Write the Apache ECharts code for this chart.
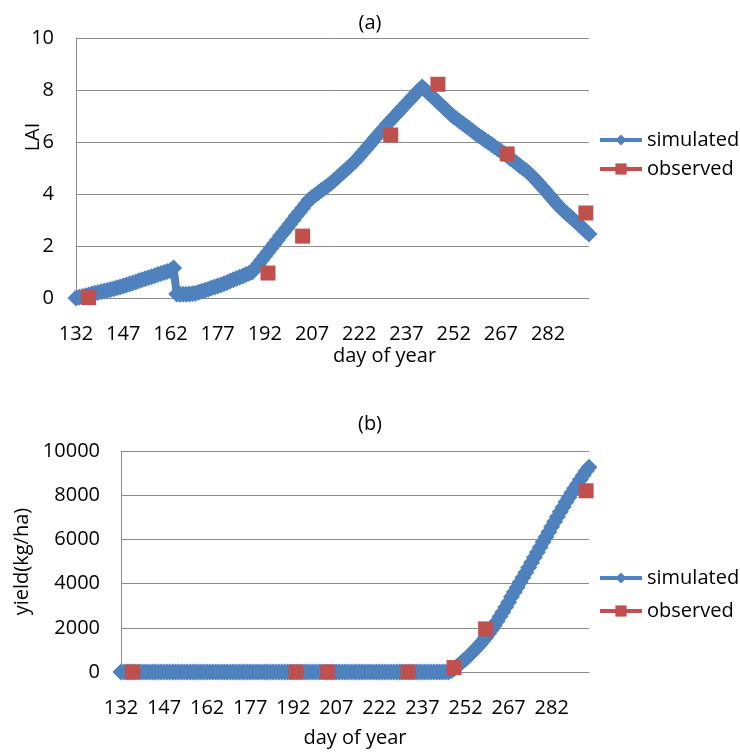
<!DOCTYPE html>
<html>
<head>
<meta charset="utf-8">
<script src="https://cdn.jsdelivr.net/npm/echarts@6/dist/echarts.min.js"></script>
<style>html,body{margin:0;padding:0;background:#fff}#c{width:740px;height:753px}</style>
</head>
<body>
<div id="c"></div>
<script>
// day of year categories
const days = [
'132','133','134','135','136','137','138','139','140','141',
'142','143','144','145','146','147','148','149','150','151',
'152','153','154','155','156','157','158','159','160','161',
'162','163','164','165','166','167','168','169','170','171',
'172','173','174','175','176','177','178','179','180','181',
'182','183','184','185','186','187','188','189','190','191',
'192','193','194','195','196','197','198','199','200','201',
'202','203','204','205','206','207','208','209','210','211',
'212','213','214','215','216','217','218','219','220','221',
'222','223','224','225','226','227','228','229','230','231',
'232','233','234','235','236','237','238','239','240','241',
'242','243','244','245','246','247','248','249','250','251',
'252','253','254','255','256','257','258','259','260','261',
'262','263','264','265','266','267','268','269','270','271',
'272','273','274','275','276','277','278','279','280','281',
'282','283','284','285','286','287','288','289','290','291',
'292','293','294','295'];

// (a) simulated LAI, one value per day
const laiSim = [
0.00,0.03,0.06,0.09,0.12,0.15,0.18,0.21,0.24,0.27,
0.30,0.33,0.36,0.39,0.42,0.46,0.50,0.54,0.58,0.62,
0.66,0.70,0.74,0.78,0.82,0.86,0.90,0.94,0.98,1.02,
1.06,1.15,0.15,0.14,0.14,0.14,0.15,0.16,0.18,0.22,
0.26,0.30,0.34,0.38,0.42,0.46,0.50,0.55,0.60,0.65,
0.70,0.75,0.80,0.85,0.90,0.95,1.00,1.15,1.31,1.46,
1.62,1.77,1.92,2.08,2.23,2.39,2.54,2.69,2.85,3.00,
3.16,3.31,3.46,3.62,3.77,3.87,3.96,4.05,4.14,4.23,
4.32,4.41,4.52,4.63,4.74,4.85,4.96,5.07,5.18,5.30,
5.44,5.58,5.72,5.86,6.00,6.14,6.28,6.42,6.56,6.70,
6.83,6.96,7.09,7.22,7.35,7.48,7.61,7.74,7.87,8.00,
8.12,8.00,7.88,7.77,7.65,7.54,7.42,7.31,7.19,7.08,
6.97,6.88,6.79,6.70,6.61,6.52,6.42,6.33,6.24,6.16,
6.07,5.99,5.90,5.82,5.73,5.65,5.56,5.47,5.37,5.28,
5.18,5.09,4.99,4.90,4.80,4.68,4.55,4.42,4.28,4.15,
4.01,3.87,3.73,3.59,3.46,3.35,3.24,3.13,3.02,2.91,
2.80,2.69,2.57,2.46];

// (a) observed LAI
const laiObsDays = ['136','193','204','232','247','269','294'];
const laiObs = [0.02,0.96,2.38,6.27,8.22,5.54,3.27];

// (b) simulated yield (kg/ha), one value per day
const yieldSim = [
0,0,0,0,0,0,0,0,0,0,
0,0,0,0,0,0,0,0,0,0,
0,0,0,0,0,0,0,0,0,0,
0,0,0,0,0,0,0,0,0,0,
0,0,0,0,0,0,0,0,0,0,
0,0,0,0,0,0,0,0,0,0,
0,0,0,0,0,0,0,0,0,0,
0,0,0,0,0,0,0,0,0,0,
0,0,0,0,0,0,0,0,0,0,
0,0,0,0,0,0,0,0,0,0,
0,0,0,0,0,0,0,0,0,0,
0,0,0,0,0,60,150,250,360,470,
590,710,840,970,1110,1250,1400,1560,1730,1910,
2100,2300,2510,2720,2940,3160,3400,3620,3840,4060,
4280,4500,4730,4960,5190,5420,5650,5880,6110,6340,
6570,6800,7030,7250,7470,7690,7900,8110,8310,8510,
8710,8900,9090,9270];

// (b) observed yield
const yieldObsDays = ['136','193','204','232','248','259','294'];
const yieldObs = [0,0,0,0,200,1950,8200];

const laiTicks = {min:0, max:10, interval:2};
const yieldTicks = {min:0, max:10000, interval:2000};

const FONT = "'Open Sans', 'Noto Sans', sans-serif";
const BLUE = '#4F81BD', RED = '#C0504D', GRID = '#8c8c8c', TXT = '#000';

const pairs = (d, v) => d.map((x, i) => [x, v[i]]);

function xAx(gi, nameOpt) {
  return Object.assign({
    type:'category', gridIndex:gi, data:days, boundaryGap:false,
    axisLine:{show:true, lineStyle:{color:GRID, width:1}},
    axisTick:{show:false},
    axisLabel:{interval:14, margin:26, fontSize:20, color:TXT, fontFamily:FONT},
    splitLine:{show:false}
  }, nameOpt || {});
}
function yAx(gi, t, margin, nameOpt) {
  return Object.assign({
    type:'value', gridIndex:gi, min:t.min, max:t.max, interval:t.interval,
    axisLine:{show:true, lineStyle:{color:GRID, width:1}},
    axisTick:{show:false},
    axisLabel:{margin:margin, fontSize:20, color:TXT, fontFamily:FONT, formatter:v => String(v)},
    splitLine:{show:true, lineStyle:{color:GRID, width:1}}
  }, nameOpt || {});
}
function simSeries(idx, data) {
  return {name:'simulated', type:'line', xAxisIndex:idx, yAxisIndex:idx, data:data,
    symbol:'diamond', symbolSize:17, showAllSymbol:true,
    lineStyle:{color:BLUE, width:8}, itemStyle:{color:BLUE, borderWidth:0},
    animation:false, z:2};
}
function obsSeries(idx, data) {
  return {name:'observed', type:'line', xAxisIndex:idx, yAxisIndex:idx, data:data,
    symbol:'rect', symbolSize:15, showAllSymbol:true,
    lineStyle:{color:RED, width:3, opacity:0}, itemStyle:{color:RED, borderWidth:0},
    animation:false, z:3};
}
function legendAt(top, gap) {
  return {orient:'vertical', left:593, top:top, itemGap:gap, itemWidth:42, itemHeight:14,
    textStyle:{fontSize:20, color:TXT, fontFamily:FONT}, selectedMode:false,
    data:[
      {name:'simulated', lineStyle:{color:BLUE, width:4, opacity:1}},
      {name:'observed', lineStyle:{color:RED, width:4, opacity:1}}
    ]};
}

const chart = echarts.init(document.getElementById('c'), null, {renderer:'canvas'});
chart.setOption({
  backgroundColor:'#fff',
  animation:false,
  title:[
    {text:'(a)', left:'center', top:8, textStyle:{fontSize:20, fontWeight:'normal', color:TXT, fontFamily:FONT}},
    {text:'(b)', left:'center', top:409, textStyle:{fontSize:20, fontWeight:'normal', color:TXT, fontFamily:FONT}}
  ],
  grid:[
    {left:76, right:151, top:38, bottom:455},
    {left:121, right:151, top:451, bottom:81}
  ],
  xAxis:[
    xAx(0),
    xAx(1, {name:'day of year', nameLocation:'middle', nameGap:56,
      nameTextStyle:{fontSize:20, color:TXT, fontFamily:FONT}})
  ],
  yAxis:[
    yAx(0, laiTicks, 22),
    yAx(1, yieldTicks, 21, {name:'yield(kg/ha)', nameLocation:'middle', nameGap:86,
      nameTextStyle:{fontSize:20, color:TXT, fontFamily:FONT}})
  ],
  legend:[legendAt(125, 9), legendAt(563, 13)],
  graphic:[
    {type:'text', left:333, top:346, style:{text:'day of year', fontSize:20, fill:TXT, fontFamily:FONT}},
    {type:'text', x:33, y:137, rotation:Math.PI/2,
      style:{text:'LAI', fontSize:20, fill:TXT, fontFamily:FONT, align:'center', verticalAlign:'middle'}}
  ],
  series:[
    simSeries(0, laiSim),
    obsSeries(0, pairs(laiObsDays, laiObs)),
    simSeries(1, yieldSim),
    obsSeries(1, pairs(yieldObsDays, yieldObs))
  ]
});
</script>
</body>
</html>
